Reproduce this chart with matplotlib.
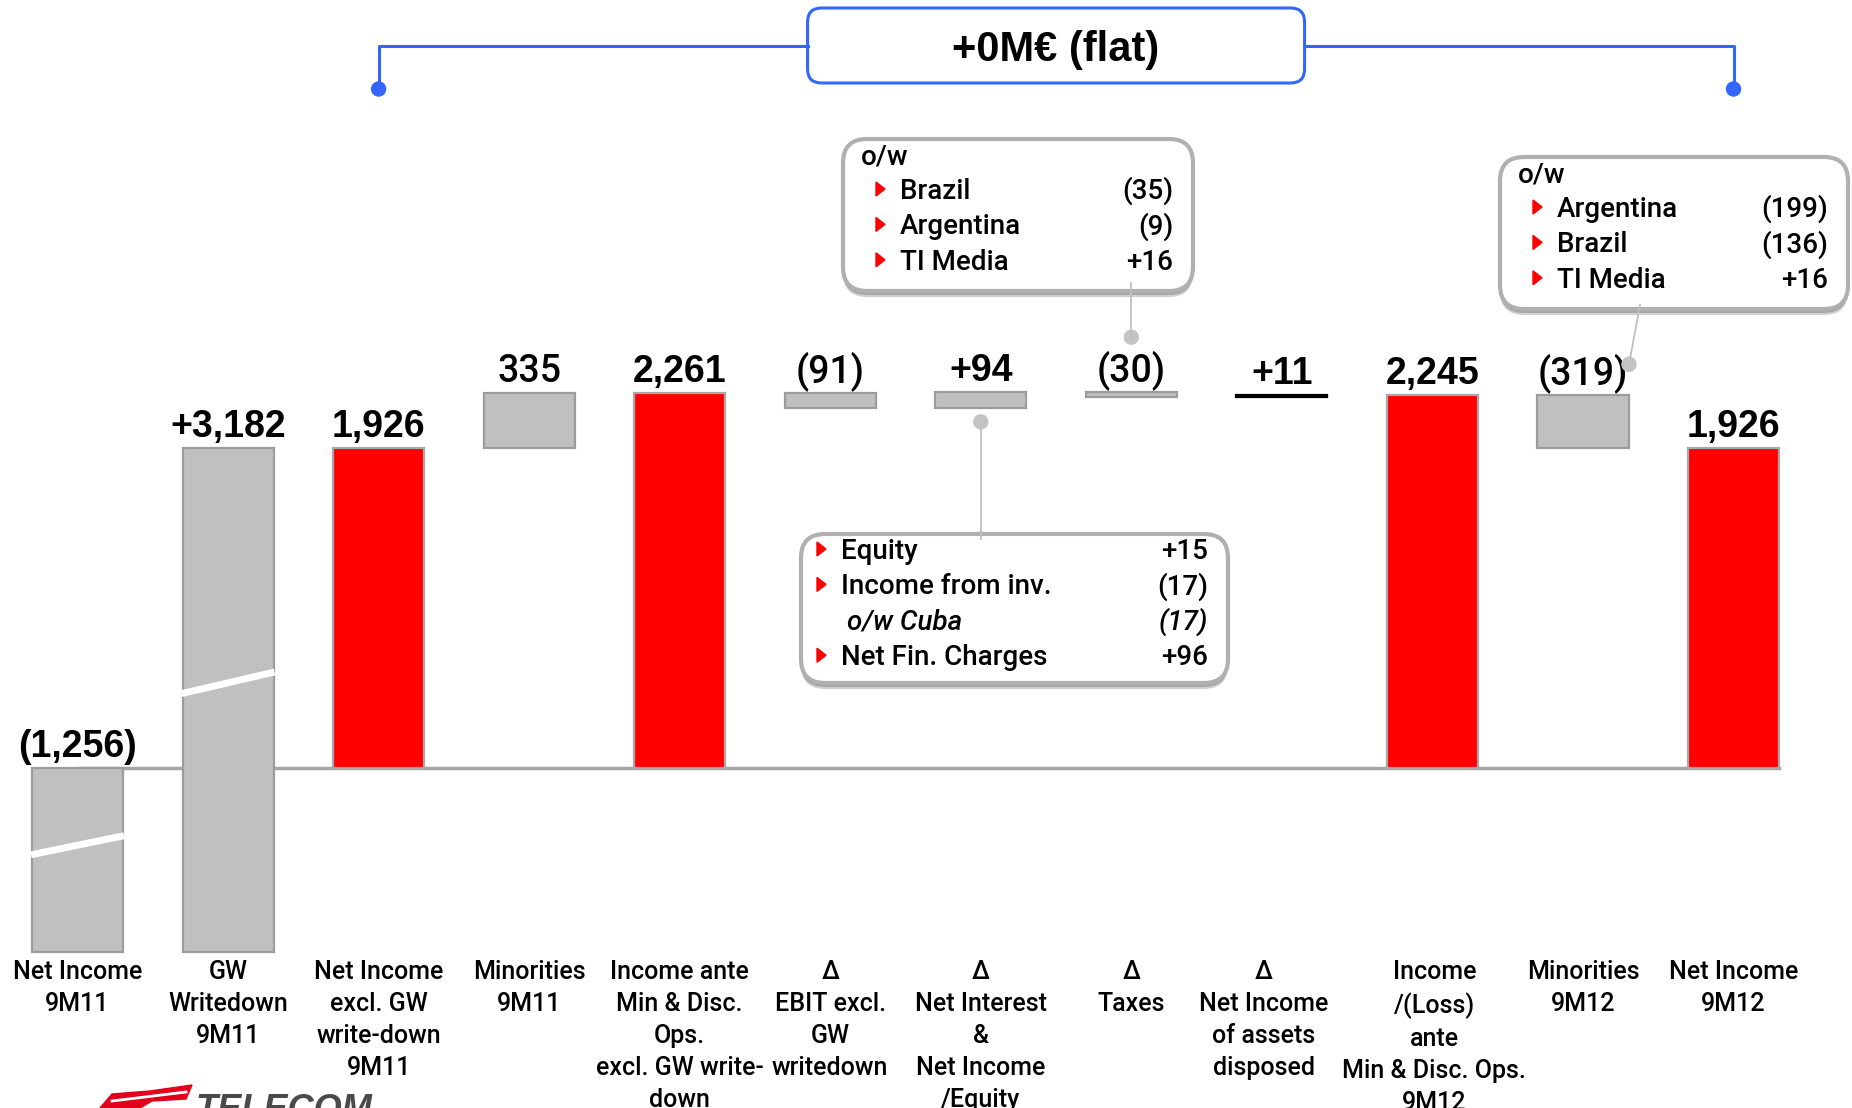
import numpy as np
import matplotlib
matplotlib.use("Agg")
import matplotlib.pyplot as plt
from matplotlib.patches import FancyBboxPatch, Polygon, Circle
from matplotlib.lines import Line2D
from matplotlib.transforms import Affine2D, blended_transform_factory, offset_copy

W, H, DPI = 1852, 1108, 100
plt.rcParams["font.family"] = ["Liberation Sans", "DejaVu Sans"]
LABEL_FONT = ["Roboto", "Liberation Sans", "DejaVu Sans"]

# ---------------------------------------------------------------- data
categories = [
    "Net Income\n9M11",
    "GW\nWritedown\n9M11",
    "Net Income\nexcl. GW\nwrite-down\n9M11",
    "Minorities\n9M11",
    "Income ante\nMin & Disc.\nOps.\nexcl. GW write-\ndown",
    "\u0394\nEBIT excl.\nGW\nwritedown",
    "\u0394\nNet Interest\n&\nNet Income\n/Equity",
    "\u0394\nTaxes",
    "\u0394\nNet Income\nof assets\ndisposed",
    "Income\n/(Loss)\nante\nMin & Disc. Ops.\n9M12",
    "Minorities\n9M12",
    "Net Income\n9M12",
]
values = [-1256, 3182, 1926, 335, 2261, -91, 94, -30, 11, 2245, -319, 1926]
is_total = [True, False, True, False, True, False, False, False, False, True, False, True]
value_labels = ["(1,256)", "+3,182", "1,926", "335", "2,261", "(91)", "+94",
                "(30)", "+11", "2,245", "(319)", "1,926"]
bold_value = [True, True, True, False, True, False, True, False, True, True, False, True]

taxes_breakdown = [("Brazil", "(35)"), ("Argentina", "(9)"), ("TI Media", "+16")]
interest_breakdown = [("Equity", "+15"), ("Income from inv.", "(17)"),
                      ("o/w Cuba", "(17)"), ("Net Fin. Charges", "+96")]
minorities_breakdown = [("Argentina", "(199)"), ("Brazil", "(136)"), ("TI Media", "+16")]
headline = "+0M\u20ac (flat)"

# ---------------------------------------------------------------- waterfall geometry
bottoms, heights, tops = [], [], []
running = 0
for v, tot in zip(values, is_total):
    start = 0 if tot else running
    end = v if tot else running + v
    bottoms.append(min(start, end))
    heights.append(abs(end - start))
    tops.append(max(start, end))
    running = end

RED, GREY, GREY_EDGE, RED_EDGE = "#FF0000", "#C0C0C0", "#9C9C9C", "#A8A8A8"
faces, edges = [], []
for v, tot, h in zip(values, is_total, heights):
    if tot and v > 0:
        faces.append(RED); edges.append(RED_EDGE)
    elif h < 20:          # deltas too thin for a bar are shown as a black rule
        faces.append("black"); edges.append("black")
    else:
        faces.append(GREY); edges.append(GREY_EDGE)

# bars below zero are shortened (shown with break marks)
NEG = 0.882


def fwd(y):
    y = np.asarray(y, dtype=float)
    return np.where(y < 0, y * NEG, y)


def inv(y):
    y = np.asarray(y, dtype=float)
    return np.where(y < 0, y / NEG, y)


fig = plt.figure(figsize=(W / DPI, H / DPI), dpi=DPI)
ax = fig.add_axes([0, 0, 1, 1])
ax.set_yscale("function", functions=(fwd, inv))
ax.set_xlim(-0.515, 11.787)
ax.set_ylim(float(inv(-2048.2)), 4626.5)
ax.axis("off")

x = np.arange(len(values))
BW = 0.605
ax.plot([0, x[-1] + BW / 2], [0, 0], color="#A6A6A6", lw=2.5, zorder=2)
ax.bar(x, heights, bottom=bottoms, width=BW, color=faces, edgecolor=edges,
       linewidth=1.6, zorder=3)

# break marks on the long bars
for i, frac in [(0, 0.58), (1, 0.556)]:
    yc = bottoms[i] + frac * heights[i]
    ax.plot([i - BW / 2 - 0.006, i + BW / 2 + 0.006], [yc - 65, yc + 65],
            color="white", lw=5, solid_capstyle="butt", zorder=4)

for i, (lbl, b) in enumerate(zip(value_labels, bold_value)):
    if b:
        font = dict(fontweight="bold")
    else:
        font = dict(fontweight="medium", family=LABEL_FONT)
    ax.annotate(lbl, (i, tops[i]), xytext=(0, 11), textcoords="offset pixels",
                ha="center", va="baseline", fontsize=27, zorder=5, **font)

# category captions; the two crowded ones are eased apart a little
cat_tr = blended_transform_factory(ax.transData, fig.transFigure)
nudge = {8: -18, 9: 2}
for i, c in enumerate(categories):
    tr = offset_copy(cat_tr, fig=fig, x=nudge.get(i, 0) / DPI, y=0, units="inches")
    ax.text(i, 1 - 960 / H, c, transform=tr, ha="center", va="top",
            fontsize=18, fontweight="medium", family=LABEL_FONT,
            linespacing=1.42, multialignment="center")

# ---------------------------------------------------------------- pixel-space overlay
PX = Affine2D().scale(1 / DPI) + fig.dpi_scale_trans


def bar_px(i, y):
    dx, dy = ax.transData.transform((i, y))
    return dx, H - dy


def P(px, ptop):
    return px, H - ptop


BLUE = "#3366FF"
xL = bar_px(2, 0)[0]
xR = bar_px(11, 0)[0]
cx = (xL + xR) / 2
bw, bh, btop = 497, 75, 8
fig.add_artist(FancyBboxPatch(P(cx - bw / 2, btop + bh), bw, bh,
                              boxstyle="round,pad=0,rounding_size=14",
                              fc="white", ec=BLUE, lw=2.2, transform=PX))
for xs in ([xL, xL, cx - bw / 2], [xR, xR, cx + bw / 2]):
    fig.add_artist(Line2D(xs, [H - 89, H - 46, H - 46], color=BLUE, lw=2.2,
                          transform=PX))
for xa in (xL, xR):
    fig.add_artist(Circle(P(xa, 89), 7, color=BLUE, transform=PX))
fig.text(cx, H - 61, headline, transform=PX, ha="center", va="baseline",
         fontsize=30, fontweight="bold")


def callout(x0, top, w, h, rows, header=None):
    for off, col in [(6, "#d0d0d0"), (4, "#a8a8a8"), (2, "#8c8c8c")]:
        fig.add_artist(FancyBboxPatch(P(x0, top + h + off), w, h,
                                      boxstyle="round,pad=0,rounding_size=24",
                                      fc=col, ec="none", transform=PX))
    fig.add_artist(FancyBboxPatch(P(x0, top + h), w, h,
                                  boxstyle="round,pad=0,rounding_size=24",
                                  fc="white", ec="#b0b0b0", lw=3, transform=PX))
    kw = dict(transform=PX, fontsize=20, va="baseline", family=LABEL_FONT,
              fontweight="medium")
    if header:
        fig.text(x0 + 18, H - (top + 16 + 10), header, ha="left", **kw)
        y0, indent = top + 50, 33
    else:
        y0, indent = top + 15, 16
    for k, (name, val) in enumerate(rows):
        yc = y0 + k * 35.4
        italic = name.startswith("o/w")
        if not italic:
            bx = x0 + indent
            fig.add_artist(Polygon([P(bx, yc - 7), P(bx, yc + 7), P(bx + 9, yc)],
                                   closed=True, color=RED, transform=PX))
        style = "italic" if italic else "normal"
        fig.text(x0 + indent + 24 + (6 if italic else 0), H - (yc + 10), name,
                 ha="left", style=style, **kw)
        fig.text(x0 + w - 20, H - (yc + 10), val, ha="right", style=style, **kw)


def connector(p1, p2):
    fig.add_artist(Line2D([p1[0], p2[0]], [H - p1[1], H - p2[1]], color="#C0C0C0",
                          lw=1.3, transform=PX))
    for p in (p1, p2):
        fig.add_artist(Circle(P(*p), 7, color="#C4C4C4", transform=PX))


# taxes breakdown
tx = bar_px(7, tops[7])
connector((tx[0], 283), (tx[0], tx[1] - 55))
callout(843, 139, 350, 152, taxes_breakdown, header="o/w")

# net interest / equity breakdown
ni = bar_px(6, bottoms[6])
connector((ni[0], ni[1] + 14), (ni[0], 539))
callout(801, 534, 427, 149, interest_breakdown)

# minorities breakdown
mi = bar_px(10, tops[10])
connector((1640, 305), (mi[0] + 46, mi[1] - 31))
callout(1500, 157, 348, 152, minorities_breakdown, header="o/w")

# logo strip at the bottom edge
fig.add_artist(Polygon([P(100, 1108), P(112, 1094), P(150, 1091), P(192, 1085),
                        P(186, 1099), P(152, 1101), P(140, 1108)],
                       closed=True, color="#E3001B", transform=PX))
fig.add_artist(Line2D([112, 186], [H - 1101, H - 1092], color="white", lw=2,
                      transform=PX))
fig.text(195, H - 1120, "TELECOM", transform=PX, fontsize=26, fontweight="bold",
         style="italic", color="#4a4a4a", va="baseline", ha="left")

fig.savefig("out.png", dpi=DPI)
